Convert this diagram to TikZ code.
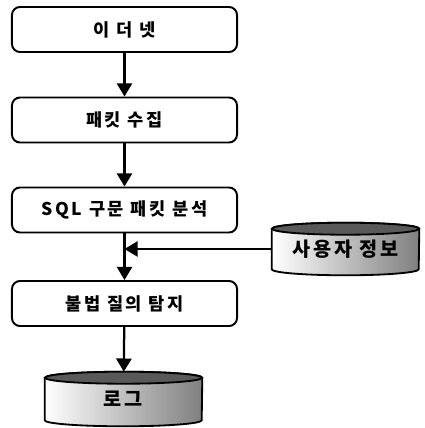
\documentclass[tikz,border=0pt]{standalone}
\usepackage{fontspec}
\newfontfamily\krfont[LetterSpace=15]{Noto Sans CJK KR}
\usetikzlibrary{calc,arrows.meta}
\tikzset{
	stepbox/.style={draw, line width=1.4pt, rounded corners=0.2cm, minimum width=5.625cm, minimum height=1.125cm, font=\krfont\bfseries\fontsize{12.5}{14}\selectfont},
	dbbox/.style={inner sep=0pt, font=\krfont\bfseries\fontsize{14}{16}\selectfont},
	flow/.style={line width=1.6pt, -{Triangle[length=0.33cm,width=0.38cm]}}
}
% cylinder around a node: (name)(half width)
\def\dbcyl(#1)(#2){
	\draw[line width=1.3pt, left color=white, right color=black!50] ($(#1.north west)+(0,-6)$) -- ($(#1.south west)+(0,6)$) arc (180:360:#2 and 6) -- ($(#1.north east)+(0,-6)$) arc (0:180:#2 and 6) -- cycle;
	\draw[line width=1.3pt, fill=black!65] ($(#1.north)+(0,-6)$) ellipse (#2 and 6);
}

\begin{document}
\begin{tikzpicture}[x=0.025cm, y=0.025cm]
	%%%%% START %%%%%
	\useasboundingbox (0,0) rectangle (424,-428);
	
	\node[stepbox] (eth) at (124.5,-29.5) {이 더 넷};
	\node[stepbox] (pkt) at (124.5,-120) {패킷 수집};
	\node[stepbox] (sql) at (124.5,-210) {SQL 구문 패킷 분석};
	\node[stepbox] (det) at (124.5,-303.5) {불법 질의 탐지};
	
	\node[dbbox, minimum width=3.675cm, minimum height=1.3cm] (usr) at (345.5,-249) {};
	\dbcyl(usr)(73.5)
	\node[dbbox] at (usr) {사용자 정보};
	
	\node[dbbox, minimum width=3.925cm, minimum height=1.35cm] (log) at (123.5,-399) {};
	\dbcyl(log)(78.5)
	\node[dbbox] at (log) {로그};
	
	\draw[flow] (eth) -- (pkt);
	\draw[flow] (pkt) -- (sql);
	\draw[flow] (sql) -- (det);
	\draw[flow] (usr.west) -- (usr.west -| sql.south);
	\draw[flow] (det) -- (log);
	%%%%% END %%%%%
\end{tikzpicture}
\end{document}
